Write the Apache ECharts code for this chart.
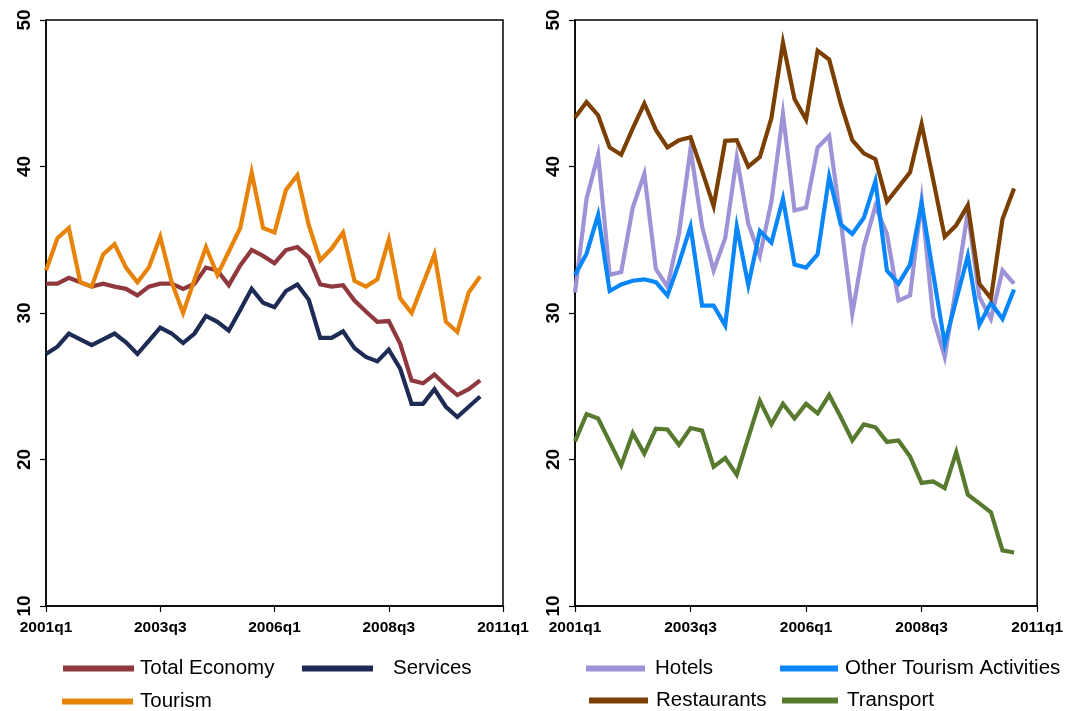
<!DOCTYPE html>
<html>
<head>
<meta charset="utf-8">
<script src="https://cdn.jsdelivr.net/npm/echarts@6/dist/echarts.min.js"></script>
<style>
  html, body { margin: 0; padding: 0; background: #fff; }
  #chart { width: 1066px; height: 711px; }
</style>
</head>
<body>
<div id="chart"></div>
<script>
// Quarterly series, 2001q1 .. 2010q3 (39 quarters)
const quarterTicks = ['2001q1', '2003q3', '2006q1', '2008q3', '2011q1'];

const totalEconomy = [32.0, 32.0, 32.4, 32.1, 31.8, 32.0, 31.8, 31.65, 31.2, 31.8, 32.0, 32.0, 31.65, 32.0, 33.1, 32.9, 31.9, 33.25, 34.3, 33.9, 33.4, 34.3, 34.5, 33.8, 31.95, 31.8, 31.9, 30.85, 30.1, 29.4, 29.45, 27.9, 25.4, 25.2, 25.8, 25.05, 24.4, 24.8, 25.4];
const services = [27.2, 27.7, 28.6, 28.2, 27.8, 28.2, 28.6, 28.0, 27.2, 28.1, 29.0, 28.6, 27.95, 28.6, 29.8, 29.4, 28.8, 30.2, 31.65, 30.7, 30.4, 31.5, 31.95, 30.9, 28.3, 28.3, 28.75, 27.6, 27.0, 26.7, 27.5, 26.2, 23.8, 23.8, 24.8, 23.6, 22.9, 23.6, 24.3];
const tourism = [32.9, 35.1, 35.8, 32.1, 31.8, 34.0, 34.7, 33.1, 32.1, 33.1, 35.2, 32.1, 30.0, 32.3, 34.5, 32.6, 34.2, 35.8, 39.6, 35.8, 35.5, 38.4, 39.4, 36.0, 33.6, 34.4, 35.5, 32.2, 31.8, 32.3, 35.0, 31.0, 30.0, 32.0, 34.0, 29.4, 28.7, 31.4, 32.5];

const hotels = [31.4, 37.8, 40.8, 32.6, 32.8, 37.2, 39.5, 33.0, 31.8, 35.4, 41.2, 35.9, 32.9, 35.1, 40.6, 36.1, 33.9, 37.6, 43.6, 37.0, 37.2, 41.3, 42.1, 36.3, 29.95, 34.5, 37.3, 35.4, 30.85, 31.2, 37.7, 29.7, 27.0, 31.8, 36.9, 31.1, 29.6, 32.9, 32.0];
const otherTourism = [32.6, 34.05, 36.7, 31.5, 31.95, 32.2, 32.3, 32.1, 31.2, 33.4, 35.9, 30.5, 30.5, 29.15, 35.9, 31.9, 35.6, 34.8, 37.8, 33.3, 33.1, 34.0, 39.3, 36.05, 35.4, 36.5, 39.0, 32.9, 32.0, 33.3, 37.5, 32.7, 27.9, 30.9, 33.9, 29.2, 30.7, 29.6, 31.6];
const restaurants = [43.35, 44.4, 43.5, 41.3, 40.8, 42.6, 44.3, 42.5, 41.3, 41.8, 42.0, 39.7, 37.3, 41.75, 41.8, 40.0, 40.65, 43.3, 48.45, 44.6, 43.2, 47.9, 47.3, 44.3, 41.8, 40.9, 40.5, 37.6, 38.6, 39.6, 42.9, 39.1, 35.2, 36.0, 37.35, 32.0, 31.0, 36.4, 38.5];
const transport = [21.24, 23.1, 22.8, 21.2, 19.6, 21.8, 20.4, 22.1, 22.05, 21.0, 22.15, 21.97, 19.5, 20.1, 18.96, 21.5, 24.0, 22.4, 23.8, 22.8, 23.8, 23.15, 24.4, 22.9, 21.3, 22.4, 22.2, 21.2, 21.3, 20.2, 18.4, 18.5, 18.05, 20.5, 17.6, 17.0, 16.4, 13.8, 13.65];

const FONT = '"Liberation Sans", Arial, sans-serif';

// pair each value with its quarter index (0 = 2001q1)
const pts = arr => arr.map((v, i) => [i, v]);

function xAxis(gridIndex) {
  return {
    type: 'value', gridIndex, min: 0, max: 40, interval: 10,
    splitLine: { show: false },
    axisLine: { show: true, lineStyle: { color: '#000', width: 1.5 } },
    axisTick: { show: true, length: 6, lineStyle: { color: '#000', width: 1.2 } },
    axisLabel: {
      color: '#000', fontFamily: FONT, fontWeight: 'bold', fontSize: 15.5, margin: 14,
      formatter: v => quarterTicks[Math.round(v / 10)]
    }
  };
}
function yAxis(gridIndex) {
  return {
    type: 'value', gridIndex, min: 10, max: 50, interval: 10,
    splitLine: { show: false },
    axisLine: { show: true, lineStyle: { color: '#000', width: 1.5 } },
    axisTick: { show: true, length: 6, lineStyle: { color: '#000', width: 1.2 } },
    axisLabel: {
      color: '#000', fontFamily: FONT, fontWeight: 'bold', fontSize: 19,
      rotate: 90, margin: 12
    }
  };
}
function line(name, data, color, idx) {
  return {
    name, type: 'line', xAxisIndex: idx, yAxisIndex: idx, data: pts(data),
    showSymbol: false, symbol: 'none', animation: false,
    lineStyle: { color, width: 4.2, join: 'miter' }, itemStyle: { color }
  };
}
// one legend box per entry so each sits in its own row/column slot
function legend(name, left, top, width, textPad) {
  return {
    data: [name], left, top, padding: 0,
    itemWidth: width, itemHeight: 6, icon: 'rect', selectedMode: false,
    textStyle: { color: '#000', fontFamily: FONT, fontSize: 20.5, padding: [0, 0, 0, textPad] }
  };
}

const chart = echarts.init(document.getElementById('chart'), null, { renderer: 'canvas' });
chart.setOption({
  backgroundColor: '#fff',
  animation: false,
  grid: [
    { left: 46, right: 563, top: 20, bottom: 105, show: true, borderColor: '#000', borderWidth: 1.5 },
    { left: 575, right: 27, top: 20, bottom: 105, show: true, borderColor: '#000', borderWidth: 1.5 }
  ],
  xAxis: [xAxis(0), xAxis(1)],
  yAxis: [yAxis(0), yAxis(1)],
  legend: [
    legend('Total Economy', 63, 658, 71, 1),
    legend('Tourism', 62, 691, 71, 2),
    legend('Services', 302, 658, 71, 15),
    legend('Hotels', 586, 658, 59, 5),
    legend('Restaurants', 589, 690, 59, 3),
    legend('Other Tourism Activities', 780, 658, 58, 2),
    legend('Transport', 782, 690, 56, 4)
  ],
  series: [
    line('Total Economy', totalEconomy, '#8f383e', 0),
    line('Services', services, '#1e2c55', 0),
    line('Tourism', tourism, '#e8830a', 0),
    line('Hotels', hotels, '#9c94d6', 1),
    line('Other Tourism Activities', otherTourism, '#0a86fb', 1),
    line('Restaurants', restaurants, '#7b3f02', 1),
    line('Transport', transport, '#587a2e', 1)
  ]
});
</script>
</body>
</html>
